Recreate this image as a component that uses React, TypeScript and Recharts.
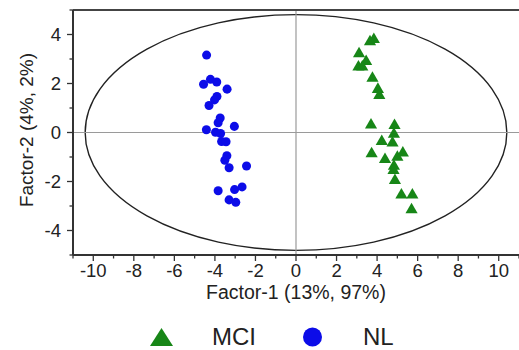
import React from "react";
import {
  ScatterChart,
  Scatter,
  XAxis,
  YAxis,
  ZAxis,
  ReferenceLine,
  ReferenceArea,
  Legend,
  Label,
} from "recharts";

// Factor scores
const mciX = [3.84, 3.65, 3.11, 3.46, 3.08, 3.27, 3.77, 4.04, 4.11, 3.7, 4.86, 4.83, 4.23, 4.76, 3.73, 4.39, 5.0, 5.27, 4.83, 4.81, 4.88, 5.2, 5.74, 5.7];
const mciY = [3.8, 3.7, 3.21, 2.9, 2.67, 2.67, 2.21, 1.76, 1.51, 0.31, 0.29, -0.07, -0.37, -0.43, -0.87, -1.1, -1.01, -0.84, -1.38, -1.55, -1.96, -2.55, -2.55, -3.15];
const nlX = [-4.41, -4.56, -4.22, -3.91, -3.4, -3.9, -4.02, -4.29, -3.74, -3.84, -3.04, -4.42, -3.97, -3.72, -3.67, -3.45, -3.41, -3.51, -3.3, -2.44, -3.84, -3.03, -2.66, -3.3, -2.97];
const nlY = [3.16, 1.97, 2.17, 2.06, 1.77, 1.47, 1.33, 1.1, 0.59, 0.4, 0.25, 0.11, 0.01, -0.04, -0.37, -0.38, -0.95, -1.13, -1.44, -1.37, -2.38, -2.33, -2.22, -2.75, -2.85];

const xTicks = [-11, -10, -9, -8, -7, -6, -5, -4, -3, -2, -1, 0, 1, 2, 3, 4, 5, 6, 7, 8, 9, 10, 11];
const yTicks = [-5, -4, -3, -2, -1, 0, 1, 2, 3, 4, 5];
const xLabels = [-10, -8, -6, -4, -2, 0, 2, 4, 6, 8, 10];
const yLabels = [-4, -2, 0, 2, 4];

// confidence ellipse (centre + half axes, data units)
const ellipse = { cx: 0, cy: 0, rx: 10.4, ry: 4.81 };

const mci = mciX.map((x, i) => ({ x, y: mciY[i] }));
const nl = nlX.map((x, i) => ({ x, y: nlY[i] }));

const FONT = "'Liberation Sans', Arial, sans-serif";
const GREEN = "#178617";
const BLUE = "#0c0ce8";
const AXIS = "#333";

const XTick = (props: any) => {
  const { x, y, payload } = props;
  const major = xLabels.includes(payload.value);
  return (
    <g>
      <line x1={x} x2={x} y1={y} y2={y + (major ? 6 : 3.5)} stroke={AXIS} strokeWidth={1.3} />
      {major && (
        <text x={x} y={y + 22} textAnchor="middle" fontSize={18.5} fill="#222" fontFamily={FONT}>
          {payload.value}
        </text>
      )}
    </g>
  );
};

const YTick = (props: any) => {
  const { x, y, payload } = props;
  const major = yLabels.includes(payload.value);
  return (
    <g>
      <line x1={x} x2={x - (major ? 6 : 3.5)} y1={y} y2={y} stroke={AXIS} strokeWidth={1.3} />
      {major && (
        <text x={x - 12} y={y + 6.5} textAnchor="end" fontSize={18.5} fill="#222" fontFamily={FONT}>
          {payload.value}
        </text>
      )}
    </g>
  );
};

const EllipseShape = (props: any) => {
  const { x, y, width, height } = props;
  return (
    <ellipse
      cx={x + width / 2}
      cy={y + height / 2}
      rx={width / 2}
      ry={height / 2}
      fill="none"
      stroke="#222"
      strokeWidth={1.4}
    />
  );
};

const renderLegend = (props: any) => {
  const { payload } = props;
  return (
    <div style={{ display: "flex", alignItems: "center", height: 20, fontFamily: FONT, fontSize: 24, color: "#222", lineHeight: "20px" }}>
      {payload.map((e: any, i: number) => (
        <div key={e.value} style={{ display: "flex", alignItems: "center", marginLeft: i ? 47 : 0 }}>
          {e.type === "triangle" ? (
            <svg width={23} height={20}>
              <polygon points="11.5,1 23,19 0,19" fill={e.color} />
            </svg>
          ) : (
            <svg width={19} height={20}>
              <circle cx={9.5} cy={10} r={9.5} fill={e.color} />
            </svg>
          )}
          <span style={{ marginLeft: i ? 41 : 39 }}>{e.value}</span>
        </div>
      ))}
    </div>
  );
};

export default function App() {
  return (
    <div style={{ position: "absolute", left: 0, top: 0, width: 519, height: 350, overflow: "hidden", background: "#fff" }}>
      <ScatterChart width={519} height={350} margin={{ top: 10, right: 0, bottom: 0, left: 0 }} style={{ fontFamily: FONT }}>
        <XAxis
          type="number"
          dataKey="x"
          domain={[-11, 11]}
          ticks={xTicks}
          interval={0}
          allowDataOverflow
          height={95}
          tickSize={0}
          tickMargin={0}
          tickLine={false}
          axisLine={{ stroke: AXIS, strokeWidth: 2 }}
          tick={<XTick />}
        >
          <Label
            content={(p: any) => {
              const vb = p.viewBox;
              return (
                <text x={vb.x + vb.width / 2} y={vb.y + 44} textAnchor="middle" fontSize={19.5} fill="#222" fontFamily={FONT}>
                  Factor-1 (13%, 97%)
                </text>
              );
            }}
          />
        </XAxis>
        <YAxis
          type="number"
          dataKey="y"
          domain={[-5, 5]}
          ticks={yTicks}
          interval={0}
          allowDataOverflow
          width={73}
          tickSize={0}
          tickMargin={0}
          tickLine={false}
          axisLine={{ stroke: AXIS, strokeWidth: 2 }}
          tick={<YTick />}
        >
          <Label
            content={(p: any) => {
              const vb = p.viewBox;
              const cx = 33;
              const cy = vb.y + vb.height / 2 - 2.5;
              return (
                <text x={cx} y={cy} transform={`rotate(-90, ${cx}, ${cy})`} textAnchor="middle" fontSize={19} fill="#222" fontFamily={FONT}>
                  Factor-2 (4%, 2%)
                </text>
              );
            }}
          />
        </YAxis>
        <ZAxis zAxisId="t" range={[46, 46]} />
        <ZAxis zAxisId="c" range={[58, 58]} />
        <ReferenceLine x={0} stroke="#9a9a9a" strokeWidth={1.2} />
        <ReferenceLine y={0} stroke="#9a9a9a" strokeWidth={1.2} />
        <ReferenceLine y={5} stroke="#444" strokeWidth={2} />
        <ReferenceArea
          x1={ellipse.cx - ellipse.rx}
          x2={ellipse.cx + ellipse.rx}
          y1={ellipse.cy - ellipse.ry}
          y2={ellipse.cy + ellipse.ry}
          shape={EllipseShape}
        />
        <Scatter name="MCI" data={mci} fill={GREEN} shape="triangle" legendType="triangle" zAxisId="t" isAnimationActive={false} />
        <Scatter name="NL" data={nl} fill={BLUE} shape="circle" legendType="circle" zAxisId="c" isAnimationActive={false} />
        <Legend
          layout="horizontal"
          verticalAlign="middle"
          align="center"
          content={renderLegend}
          wrapperStyle={{ top: 327, left: 150, width: 320, height: 20 }}
        />
      </ScatterChart>
    </div>
  );
}
